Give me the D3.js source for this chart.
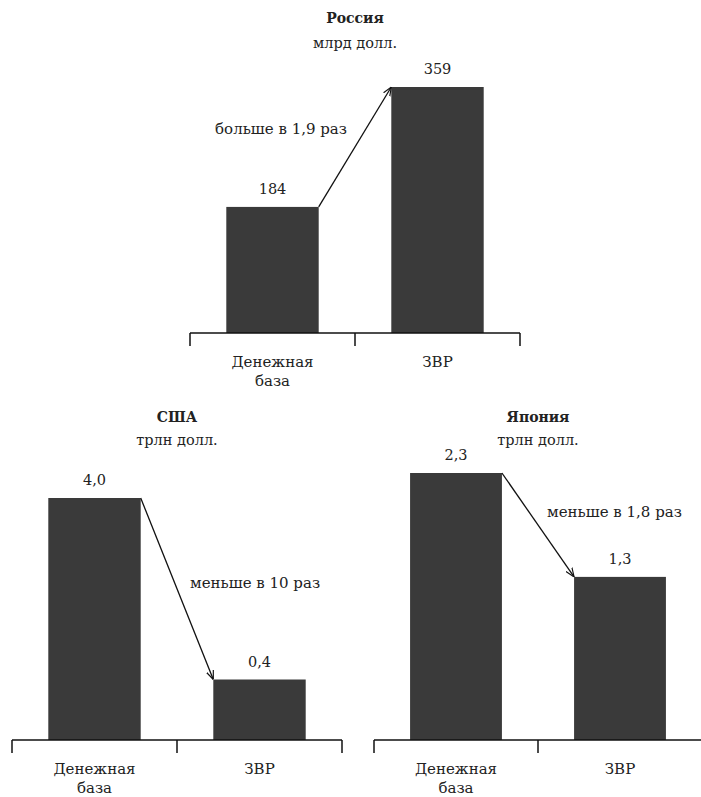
<!DOCTYPE html>
<html>
<head>
<meta charset="utf-8">
<script src="https://cdn.jsdelivr.net/npm/d3@7"></script>
<style>
  html, body { margin: 0; padding: 0; background: #fff; }
  svg { display: block; }
  text { font-family: "DejaVu Serif", "Liberation Serif", serif; fill: #222; }
</style>
</head>
<body>
<svg id="chart" width="701" height="797"></svg>
<script>
// ---- data ----
const categories = ["Денежная база", "ЗВР"];
const panelTitles = ["Россия", "США", "Япония"];
const panelUnits = ["млрд долл.", "трлн долл.", "трлн долл."];
const russiaValues = [184, 359];
const usaValues = [4.0, 0.4];
const japanValues = [2.3, 1.3];
const valueLabels = [["184", "359"], ["4,0", "0,4"], ["2,3", "1,3"]];
const annotations = ["больше в 1,9 раз", "меньше в 10 раз", "меньше в 1,8 раз"];

// ---- layout ----
const svg = d3.select("#chart");
const barColor = "#3a3a3a";

svg.append("defs").append("marker")
  .attr("id", "arrow")
  .attr("viewBox", "0 0 10 10")
  .attr("refX", 10).attr("refY", 5)
  .attr("markerWidth", 9).attr("markerHeight", 9)
  .attr("markerUnits", "userSpaceOnUse")
  .attr("orient", "auto")
  .append("path")
  .attr("d", "M0,1 L10,5 L0,9")
  .attr("fill", "none")
  .attr("stroke", "#111")
  .attr("stroke-width", 1.3);

const panels = [
  { values: russiaValues, x0: 190, x1: 520, base: 333, top: 87, yMin: 0,
    titleY: 23, unitY: 48, ann: { anchor: "end", dx: -8, dy: -13 } },
  { values: usaValues, x0: 12, x1: 342, base: 740, top: 498, yMin: -0.8,
    titleY: 422, unitY: 445, ann: { anchor: "start", dx: 13, dy: -1 } },
  { values: japanValues, x0: 374, x1: 702, base: 740, top: 473, yMin: -0.27,
    titleY: 422, unitY: 445, ann: { anchor: "start", dx: 9, dy: -8 } }
];

panels.forEach((p, i) => {
  const g = svg.append("g");
  const outer = d3.scaleBand().domain(categories).range([p.x0, p.x1]).padding(0);
  const x = d3.scaleBand().domain(categories).range([p.x0, p.x1])
    .paddingInner(0.44).paddingOuter(0.22);
  const y = d3.scaleLinear().domain([p.yMin, d3.max(p.values)]).range([p.base, p.top]);
  const cx = (p.x0 + p.x1) / 2;

  // title
  g.append("text").attr("x", cx).attr("y", p.titleY)
    .attr("text-anchor", "middle").attr("font-weight", "bold")
    .attr("font-size", 14).text(panelTitles[i]);
  g.append("text").attr("x", cx).attr("y", p.unitY)
    .attr("text-anchor", "middle").attr("font-size", 14.5).text(panelUnits[i]);

  // bars
  g.selectAll("rect").data(p.values).join("rect")
    .attr("x", (d, j) => x(categories[j]))
    .attr("width", x.bandwidth())
    .attr("y", d => y(d))
    .attr("height", d => p.base - y(d))
    .attr("fill", barColor);

  // value labels
  g.selectAll("text.val").data(p.values).join("text").attr("class", "val")
    .attr("x", (d, j) => x(categories[j]) + x.bandwidth() / 2)
    .attr("y", d => y(d) - 13)
    .attr("text-anchor", "middle").attr("font-size", 14.5)
    .text((d, j) => valueLabels[i][j]);

  // axis line & ticks at band boundaries
  g.append("line").attr("x1", p.x0).attr("x2", p.x1)
    .attr("y1", p.base).attr("y2", p.base)
    .attr("stroke", "#111").attr("stroke-width", 1.5);
  const ticks = categories.map(c => outer(c)).concat([p.x1]);
  g.selectAll("line.tick").data(ticks).join("line").attr("class", "tick")
    .attr("x1", d => d).attr("x2", d => d)
    .attr("y1", p.base).attr("y2", p.base + 13)
    .attr("stroke", "#111").attr("stroke-width", 1.5);

  // category labels
  categories.forEach(c => {
    const words = c.split(" ");
    const t = g.append("text").attr("text-anchor", "middle").attr("font-size", 15)
      .attr("x", outer(c) + outer.bandwidth() / 2).attr("y", p.base + 34);
    words.forEach((w, k) => {
      t.append("tspan").attr("x", outer(c) + outer.bandwidth() / 2)
        .attr("dy", k === 0 ? 0 : 19).text(w);
    });
  });

  // arrow from bar 1 top-right to bar 2 top-left
  const ax1 = x(categories[0]) + x.bandwidth();
  const ay1 = y(p.values[0]);
  const ax2 = x(categories[1]);
  const ay2 = y(p.values[1]);
  g.append("line")
    .attr("x1", ax1).attr("y1", ay1).attr("x2", ax2).attr("y2", ay2)
    .attr("stroke", "#111").attr("stroke-width", 1.3)
    .attr("marker-end", "url(#arrow)");

  const mx = (ax1 + ax2) / 2, my = (ay1 + ay2) / 2;
  g.append("text").attr("x", mx + p.ann.dx).attr("y", my + p.ann.dy)
    .attr("text-anchor", p.ann.anchor).attr("font-size", 15)
    .text(annotations[i]);
});
</script>
</body>
</html>
